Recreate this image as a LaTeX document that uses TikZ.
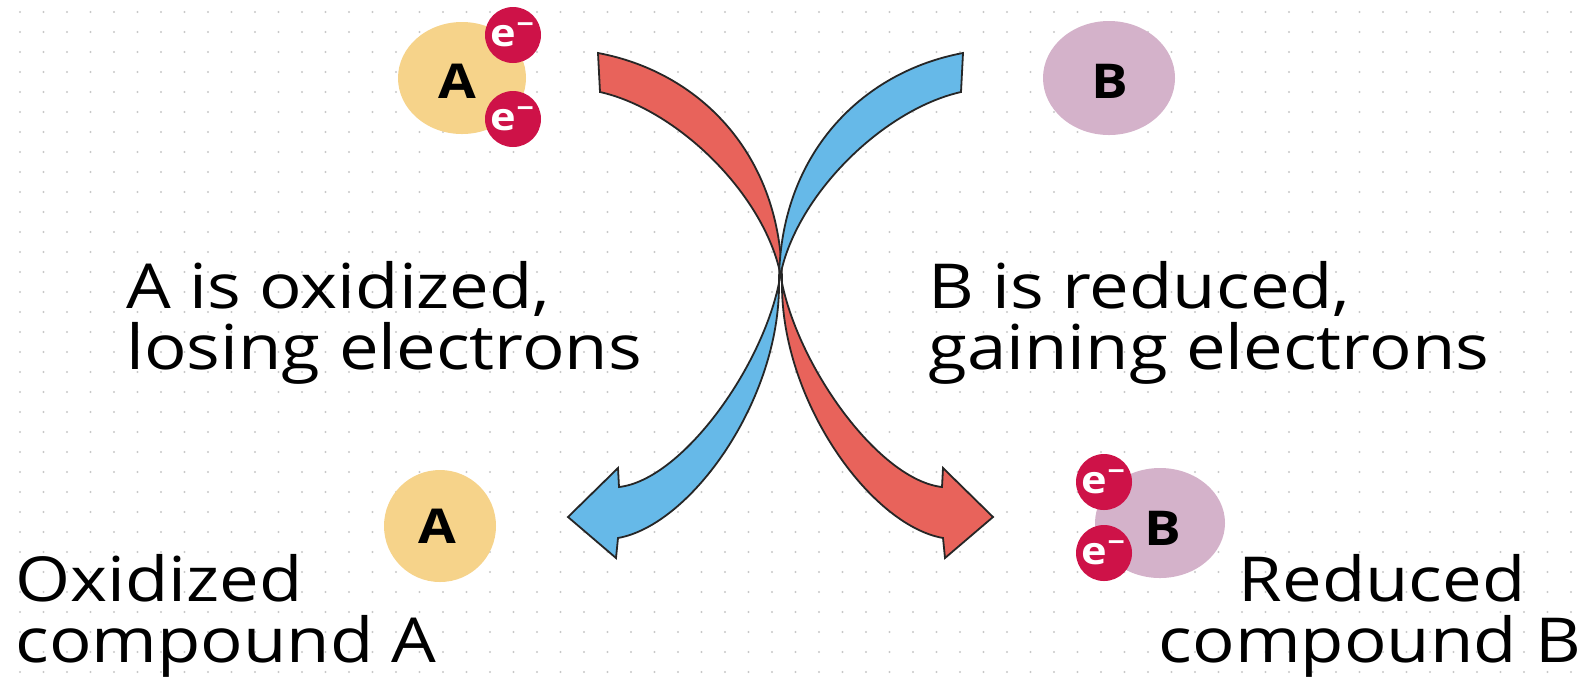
\documentclass[tikz,border=0pt]{standalone}
\usepackage{fontspec}
\setmainfont{Open Sans}
\usepackage{graphicx}
\usetikzlibrary{shapes.geometric}

\definecolor{gridc}{RGB}{200,200,200}
\definecolor{yellowA}{RGB}{246,211,138}
\definecolor{pinkB}{RGB}{212,178,202}
\definecolor{eRed}{RGB}{206,18,72}
\definecolor{arrowred}{RGB}{232,99,91}
\definecolor{arrowblue}{RGB}{102,185,232}

% horizontally widened lettering
\newcommand\hstr[1]{\scalebox{1.14}[1]{#1}}

\tikzset{
  lbl/.style={inner sep=0pt, font=\fontsize{31}{31}\selectfont},
  molname/.style={inner sep=0pt, font=\fontsize{24}{24}\selectfont\bfseries},
  electron/.style={circle, fill=eRed, minimum size=28pt, inner sep=0pt,
                   text=white, font=\fontsize{19}{19}\selectfont\bfseries},
  ribbonline/.style={draw=black!85, line width=0.9pt},
  % curved electron-transfer band: tail at top, thin twist at the crossing, head at bottom
  ribbon/.pic={
    \filldraw[ribbonline, fill=#1]
      (598,53) .. controls (700,72) and (782,155) .. (782,283)
      .. controls (800,370) and (880,480) .. (942,487)
      -- (943,468) -- (993,517) -- (945,558) -- (943,538)
      .. controls (870,525) and (781,400) .. (782,283)
      .. controls (770,200) and (680,110) .. (600,92) -- cycle;
  }
}

\begin{document}
\begin{tikzpicture}[x=0.5pt, y=-0.5pt]
\fill[white] (0,0) rectangle (1585,677);
\useasboundingbox (0,0) rectangle (1585,677);

% dotted paper
\foreach \i in {0,...,67}{
  \foreach \j in {0,...,33}{
    \fill[gridc] ({20+23.5*\i},{12+20*\j}) circle[radius=0.6pt];
  }
}

% compound A before the reaction, carrying two electrons
\node[ellipse, fill=yellowA, minimum width=64pt, minimum height=56pt, inner sep=0pt] (molA) at (462,78) {};
\node[molname] (molAtxt) at (457,81) {\hstr{A}};
\node[electron] (eA1) at (513,35) {\hstr{e\textsuperscript{−}}};
\node[electron] (eA2) at (513,119) {\hstr{e\textsuperscript{−}}};

% compound B before the reaction
\node[ellipse, fill=pinkB, minimum width=66pt, minimum height=57pt, inner sep=0pt] (molB) at (1109,78) {};
\node[molname] (molBtxt) at (1110,81) {\hstr{B}};

% oxidized A
\node[circle, fill=yellowA, minimum size=56pt, inner sep=0pt] (oxA) at (440,526) {};
\node[molname] (oxAtxt) at (437,526) {\hstr{A}};

% reduced B, now carrying the two electrons
\node[ellipse, fill=pinkB, minimum width=65pt, minimum height=55pt, inner sep=0pt] (redB) at (1160,523) {};
\node[molname] (redBtxt) at (1163,528) {\hstr{B}};
\node[electron] (eB1) at (1104,482) {\hstr{e\textsuperscript{−}}};
\node[electron] (eB2) at (1104,553) {\hstr{e\textsuperscript{−}}};

% crossing transfer arrows
\pic at (0,0) {ribbon=arrowred};
\pic[xscale=-1] at (1561,0) {ribbon=arrowblue};

% captions
\node[lbl, anchor=base west] (capA1) at (126,308) {\hstr{A is oxidized,}};
\node[lbl, anchor=base west] (capA2) at (126,369) {\hstr{losing electrons}};
\node[lbl, anchor=base west] (capB1) at (928,308) {\hstr{B is reduced,}};
\node[lbl, anchor=base west] (capB2) at (928,369) {\hstr{gaining electrons}};
\node[lbl, anchor=base west] (capOx1) at (15,601) {\hstr{Oxidized}};
\node[lbl, anchor=base west] (capOx2) at (15,662) {\hstr{compound A}};
\node[lbl, anchor=base] (capRed1) at (1382,601) {\hstr{Reduced}};
\node[lbl, anchor=base] (capRed2) at (1370,662) {\hstr{compound B}};
\end{tikzpicture}
\end{document}
